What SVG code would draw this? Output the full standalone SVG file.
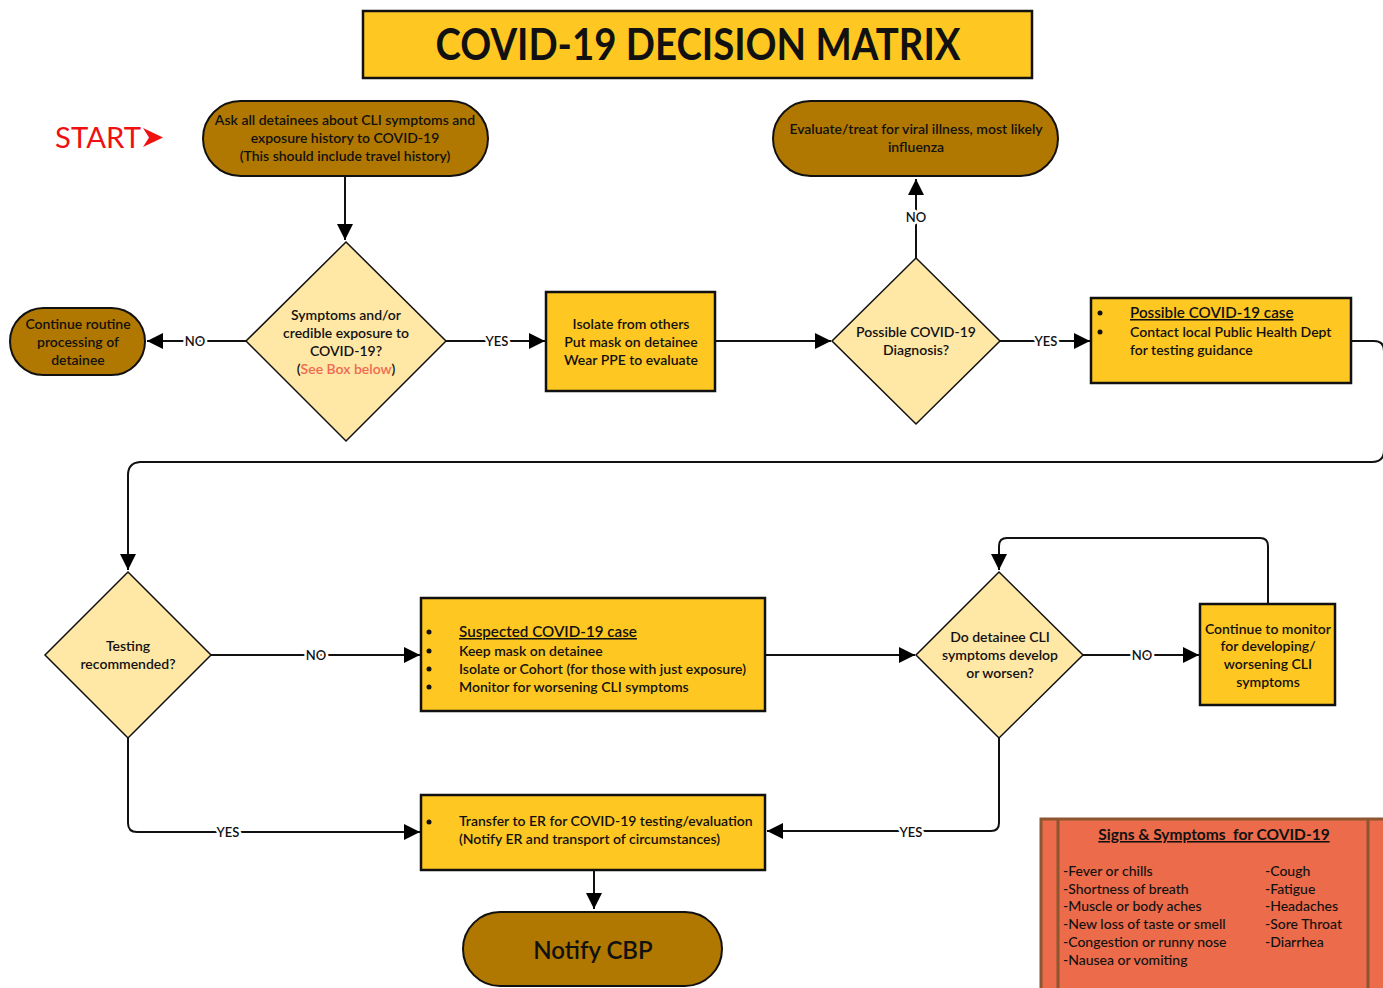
<svg xmlns="http://www.w3.org/2000/svg" width="1383" height="988" viewBox="0 0 1383 988">
<defs>
<marker id="arr" markerUnits="userSpaceOnUse" markerWidth="16" markerHeight="16" viewBox="0 0 16 16" refX="16" refY="8" orient="auto">
<path d="M0,0 L16,8 L0,16 Z" fill="#000"/>
</marker>
</defs>
<style>
text{font-family:Lato,"Open Sans","Liberation Sans",sans-serif;fill:#111;font-weight:600}
.t{font-size:14px;text-anchor:middle}
.l{font-size:14px}
.pill{fill:#B07800;stroke:#111;stroke-width:2}
.box{fill:#FFC721;stroke:#111;stroke-width:2.5}
.dia{fill:#FFE7A6;stroke:#111;stroke-width:1.5}
.c{fill:none;stroke:#111;stroke-width:2;marker-end:url(#arr)}
.lab{font-size:13px;text-anchor:middle;stroke:#fff;stroke-width:5;paint-order:stroke;stroke-linejoin:round}
.u{text-decoration:underline}
.h{font-size:15.2px}
.s{font-weight:500}
</style>
<rect width="1383" height="988" fill="#fff"/>

<g id="title">
<rect x="363" y="11" width="669" height="67" class="box"/>
<text x="698" y="60" font-size="44" style="font-weight:bold" text-anchor="middle" textLength="525" lengthAdjust="spacingAndGlyphs">COVID-19 DECISION MATRIX</text>
</g>

<g id="start">
<text x="55" y="148" font-size="29" style="fill:#F01010;font-weight:normal" textLength="86" lengthAdjust="spacingAndGlyphs">START</text>
<path d="M143,128 L163,137.5 L143,147 L149,137.5 Z" fill="#F01010"/>
</g>

<g id="connectors">
<path class="c" d="M345,176 V240"/>
<path class="c" d="M246,341 H147"/>
<text class="lab" x="195" y="346">NO</text>
<path class="c" d="M446,341 H545"/>
<text class="lab" x="497" y="346">YES</text>
<path class="c" d="M715,341 H831"/>
<path class="c" d="M916,258 V179"/>
<text class="lab" x="916" y="222">NO</text>
<path class="c" d="M1000,341 H1090"/>
<text class="lab" x="1046" y="346">YES</text>
<path class="c" d="M1351,341 H1374 Q1384,341 1384,351 V450 Q1384,462 1372,462 H140 Q128,463 128,475 V570"/>
<path class="c" d="M211,655 H420"/>
<text class="lab" x="316" y="660">NO</text>
<path class="c" d="M765,655 H915"/>
<path class="c" d="M1083,655 H1199"/>
<text class="lab" x="1142" y="660">NO</text>
<path class="c" d="M1268,604 V546 Q1268,538 1260,538 H1007 Q999,538 999,546 V570"/>
<path class="c" d="M999,738 V823 Q999,831 991,831 H767"/>
<text class="lab" x="911" y="837">YES</text>
<path class="c" d="M128,738 V823 Q128,832 137,832 H420"/>
<text class="lab" x="228" y="837">YES</text>
<path class="c" d="M594,870 V909"/>
</g>

<g id="ask">
<rect x="203" y="101" width="285" height="75" rx="37.5" class="pill"/>
<text class="t" x="345" y="125">Ask all detainees about CLI symptoms and</text>
<text class="t" x="345" y="143">exposure history to COVID-19</text>
<text class="t" x="345" y="161">(This should include travel history)</text>
</g>

<g id="symptoms-decision">
<polygon points="346,242 446,341 346,441 246,341" class="dia"/>
<text class="t" x="346" y="320">Symptoms and/or</text>
<text class="t" x="346" y="338">credible exposure to</text>
<text class="t" x="346" y="356">COVID-19?</text>
<text class="t" x="346" y="374">(<tspan style="fill:#F06A50">See Box below</tspan>)</text>
</g>

<g id="routine">
<rect x="10" y="308" width="135" height="67" rx="33.5" class="pill"/>
<text class="t" x="78" y="329">Continue routine</text>
<text class="t" x="78" y="347">processing of</text>
<text class="t" x="78" y="365">detainee</text>
</g>

<g id="isolate">
<rect x="546" y="292" width="169" height="99" class="box"/>
<text class="t" x="631" y="329">Isolate from others</text>
<text class="t" x="631" y="347">Put mask on detainee</text>
<text class="t" x="631" y="365">Wear PPE to evaluate</text>
</g>

<g id="possible-decision">
<polygon points="916,258 1000,341 916,424 832,341" class="dia"/>
<text class="t" x="916" y="337">Possible COVID-19</text>
<text class="t" x="916" y="355">Diagnosis?</text>
</g>

<g id="evaluate">
<rect x="773" y="101" width="285" height="75" rx="37.5" class="pill"/>
<text class="t" x="916" y="134">Evaluate/treat for viral illness, most likely</text>
<text class="t" x="916" y="152">influenza</text>
</g>

<g id="possible-case">
<rect x="1091" y="298" width="260" height="85" class="box"/>
<circle cx="1100" cy="313" r="2.5" fill="#111"/>
<circle cx="1100" cy="332" r="2.5" fill="#111"/>
<text class="l u h" x="1130" y="318">Possible COVID-19 case</text>
<text class="l" x="1130" y="337">Contact local Public Health Dept</text>
<text class="l" x="1130" y="355">for testing guidance</text>
</g>

<g id="testing-decision">
<polygon points="128,572 211,655 128,738 45,655" class="dia"/>
<text class="t" x="128" y="651">Testing</text>
<text class="t" x="128" y="669">recommended?</text>
</g>

<g id="suspected">
<rect x="421" y="598" width="344" height="113" class="box"/>
<circle cx="429" cy="632" r="2.5" fill="#111"/>
<circle cx="429" cy="651" r="2.5" fill="#111"/>
<circle cx="429" cy="669" r="2.5" fill="#111"/>
<circle cx="429" cy="687" r="2.5" fill="#111"/>
<text class="l u h" x="459" y="637">Suspected COVID-19 case</text>
<text class="l" x="459" y="656">Keep mask on detainee</text>
<text class="l" x="459" y="674">Isolate or Cohort (for those with just exposure)</text>
<text class="l" x="459" y="692">Monitor for worsening CLI symptoms</text>
</g>

<g id="worsen-decision">
<polygon points="999,572 1083,655 999,738 916,655" class="dia"/>
<text class="t" x="1000" y="642">Do detainee CLI</text>
<text class="t" x="1000" y="660">symptoms develop</text>
<text class="t" x="1000" y="678">or worsen?</text>
</g>

<g id="monitor">
<rect x="1200" y="604" width="135" height="101" class="box"/>
<text class="t" x="1268" y="634">Continue to monitor</text>
<text class="t" x="1268" y="651">for developing/</text>
<text class="t" x="1268" y="669">worsening CLI</text>
<text class="t" x="1268" y="687">symptoms</text>
</g>

<g id="transfer">
<rect x="421" y="795" width="344" height="75" class="box"/>
<circle cx="429" cy="822" r="2.5" fill="#111"/>
<text class="l" x="459" y="826">Transfer to ER for COVID-19 testing/evaluation</text>
<text class="l" x="459" y="844">(Notify ER and transport of circumstances)</text>
</g>

<g id="notify">
<rect x="463" y="912" width="259" height="74" rx="37" class="pill"/>
<text x="593" y="959" font-size="24" text-anchor="middle">Notify CBP</text>
</g>

<g id="signs">
<rect x="1041" y="819" width="348" height="172" fill="#EB6B4A" stroke="#8B5630" stroke-width="3"/>
<line x1="1058" y1="819" x2="1058" y2="988" stroke="#8B5630" stroke-width="3"/>
<line x1="1368" y1="819" x2="1368" y2="988" stroke="#8B5630" stroke-width="3"/>
<text class="t u" x="1214" y="840" style="font-size:15.5px;font-weight:bold" xml:space="preserve">Signs &amp; Symptoms  for COVID-19</text>
<text class="l s" x="1063" y="876">-Fever or chills</text>
<text class="l s" x="1063" y="894">-Shortness of breath</text>
<text class="l s" x="1063" y="911">-Muscle or body aches</text>
<text class="l s" x="1063" y="929">-New loss of taste or smell</text>
<text class="l s" x="1063" y="947">-Congestion or runny nose</text>
<text class="l s" x="1063" y="965">-Nausea or vomiting</text>
<text class="l s" x="1265" y="876">-Cough</text>
<text class="l s" x="1265" y="894">-Fatigue</text>
<text class="l s" x="1265" y="911">-Headaches</text>
<text class="l s" x="1265" y="929">-Sore Throat</text>
<text class="l s" x="1265" y="947">-Diarrhea</text>
</g>
</svg>
